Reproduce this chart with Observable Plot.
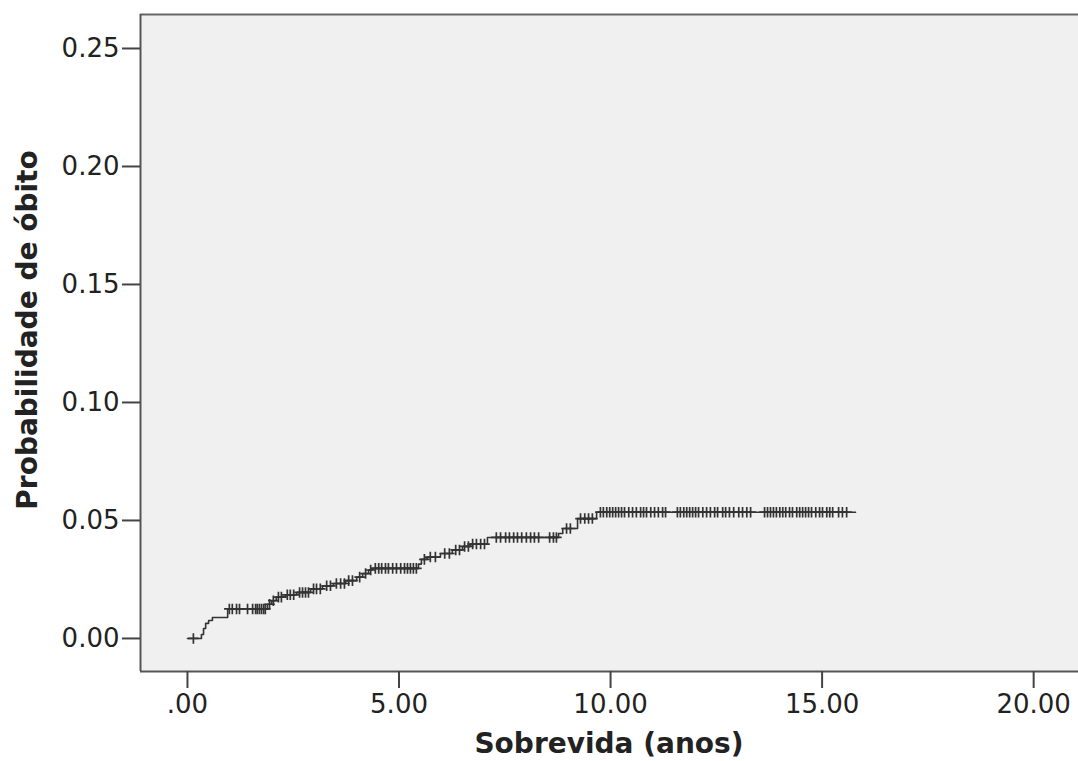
<!DOCTYPE html>
<html>
<head>
<meta charset="utf-8">
<script src="https://cdn.jsdelivr.net/npm/d3@7"></script>
<script src="https://cdn.jsdelivr.net/npm/@observablehq/plot@0.6"></script>
<style>
  html, body { margin: 0; padding: 0; background: #fff; }
  svg { display: block; }
</style>
</head>
<body>
<div id="chart"></div>
<script>
// Step function (Kaplan–Meier cumulative probability of death)
const eventTimes = [0, 0.33, 0.38, 0.43, 0.50, 0.59, 0.95, 1.89, 1.99, 2.10, 2.32, 2.58, 2.91, 3.19, 3.45, 3.74, 4.00, 4.14, 4.28, 4.37, 5.46, 5.53, 5.67, 5.98, 6.26, 6.50, 6.69, 7.09, 8.77, 8.87, 9.22, 9.67];
const eventProbs = [0, 0.0017, 0.0042, 0.0064, 0.0076, 0.0089, 0.0125, 0.0145, 0.016, 0.0175, 0.0185, 0.0195, 0.021, 0.0223, 0.0233, 0.0245, 0.026, 0.0275, 0.029, 0.0297, 0.0315, 0.0335, 0.0345, 0.036, 0.0375, 0.039, 0.040, 0.0428, 0.0445, 0.0466, 0.0508, 0.0535];
const lastTime = 15.79;

// Censored observations (years)
const censorTimes = [0.14,
  0.99, 1.06, 1.16, 1.23, 1.42, 1.54, 1.61, 1.65, 1.70, 1.75, 1.80, 1.84,
  1.94, 2.03, 2.15, 2.22, 2.36, 2.43, 2.51,
  2.65, 2.72, 2.79, 2.86,
  2.98, 3.05, 3.14, 3.29, 3.38,
  3.52, 3.62, 3.71, 3.81, 3.90,
  4.07, 4.21, 4.33,
  4.44, 4.52, 4.59, 4.68, 4.75, 4.85, 4.94, 5.04, 5.13, 5.20, 5.27, 5.34, 5.41,
  5.60, 5.74, 5.86,
  6.08, 6.19, 6.34, 6.43,
  6.55, 6.64, 6.74, 6.83, 6.93, 7.02,
  7.30, 7.40, 7.52, 7.61, 7.71, 7.80, 7.90, 8.01, 8.11, 8.20, 8.30, 8.56, 8.65, 8.72,
  8.96, 9.05,
  9.29, 9.39, 9.48, 9.57,
  9.76, 9.83, 9.91, 9.98, 10.05, 10.12, 10.19, 10.26, 10.33, 10.43, 10.52, 10.61, 10.71, 10.78, 10.85, 10.95, 11.04, 11.13, 11.23, 11.30,
  11.58, 11.65, 11.73, 11.80, 11.87, 11.94, 12.01, 12.08, 12.18, 12.27, 12.36, 12.46, 12.53,
  12.65, 12.72, 12.81, 12.91, 13.03, 13.12, 13.22, 13.31,
  13.64, 13.71, 13.78, 13.85, 13.92, 14.00, 14.07, 14.14, 14.23, 14.30, 14.40, 14.47, 14.54, 14.61, 14.68, 14.75, 14.85, 14.94, 15.01, 15.11, 15.18, 15.25, 15.39, 15.48, 15.58
];

const xTicks = [0, 5, 10, 15, 20];
const yTicks = [0, 0.05, 0.10, 0.15, 0.20, 0.25];
const xLabel = "Sobrevida (anos)";
const yLabel = "Probabilidade de óbito";

const steps = eventTimes.map((t, i) => ({t, p: eventProbs[i]}));
steps.push({t: lastTime, p: eventProbs[eventProbs.length - 1]});
function probAt(t) {
  let p = 0;
  for (let i = 0; i < eventTimes.length; i++) if (eventTimes[i] <= t) p = eventProbs[i];
  return p;
}
const censored = censorTimes.map(t => ({t, p: probAt(t)}));

const xDom = [-1.11, 21.06];
const yDom = [-0.014, 0.2644];
const ink = "#333";

const chart = Plot.plot({
  width: 1078,
  height: 761,
  marginLeft: 140,
  marginRight: 0,
  marginTop: 14,
  marginBottom: 90,
  style: {fontFamily: "'DejaVu Sans', sans-serif", fontSize: "26px", color: "#222", background: "#fff"},
  x: {domain: xDom},
  y: {domain: yDom},
  marks: [
    Plot.frame({fill: "#f0f0f0", stroke: null}),
    Plot.ruleY([yDom[1]], {stroke: "#666", strokeWidth: 2}),
    Plot.ruleX([xDom[0]], {stroke: "#555", strokeWidth: 2}),
    Plot.ruleY([yDom[0]], {stroke: "#555", strokeWidth: 2}),
    Plot.axisX({ticks: xTicks, tickFormat: d => d === 0 ? ".00" : d.toFixed(2), tickSize: 17, tickPadding: 6, fontSize: 26, stroke: "#444", strokeWidth: 2, label: null}),
    Plot.axisY({ticks: yTicks, tickFormat: d => d.toFixed(2), tickSize: 18, tickPadding: 3, fontSize: 26, stroke: "#444", strokeWidth: 2, label: null}),
    Plot.line(steps, {x: "t", y: "p", curve: "step-after", stroke: ink, strokeWidth: 1.6}),
    Plot.dot(censored, {x: "t", y: "p", symbol: "plus", r: 3.5, stroke: ink, strokeWidth: 1.7})
  ]
});

const svg = d3.select(chart);
svg.append("text")
  .attr("x", 609).attr("y", 753)
  .attr("text-anchor", "middle")
  .attr("font-weight", "bold")
  .attr("font-size", 28)
  .attr("fill", "#222")
  .text(xLabel);
svg.append("text")
  .attr("transform", "translate(37,330) rotate(-90)")
  .attr("text-anchor", "middle")
  .attr("font-weight", "bold")
  .attr("font-size", 28)
  .attr("fill", "#222")
  .text(yLabel);

document.getElementById("chart").appendChild(chart);
</script>
</body>
</html>
